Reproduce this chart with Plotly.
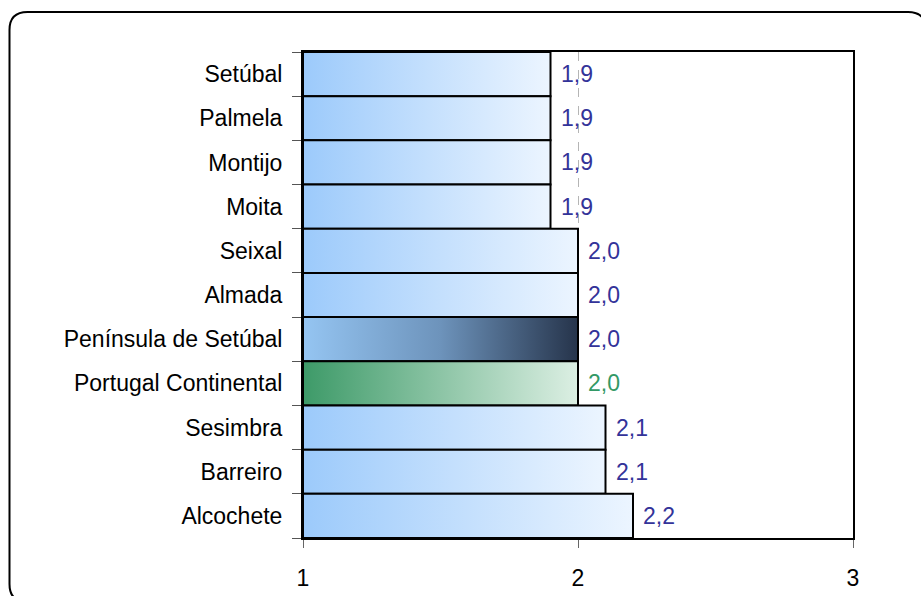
import plotly.graph_objects as go

# ---- data (top to bottom as shown) ----
categories = ["Setúbal", "Palmela", "Montijo", "Moita", "Seixal", "Almada",
              "Península de Setúbal", "Portugal Continental", "Sesimbra",
              "Barreiro", "Alcochete"]
values = [1.9, 1.9, 1.9, 1.9, 2.0, 2.0, 2.0, 2.0, 2.1, 2.1, 2.2]
labels = ["1,9", "1,9", "1,9", "1,9", "2,0", "2,0", "2,0", "2,0", "2,1", "2,1", "2,2"]
x_ticks = [1, 2, 3]

# ---- styles ----
STYLE_BLUE = ([[0, "#9ccafb"], [1, "#ecf5ff"]], "#333399")
STYLE_DARK = ([[0, "#95c5f2"], [0.5, "#6d93bb"], [1, "#26344b"]], "#333399")
STYLE_GREEN = ([[0, "#3d9a68"], [1, "#dcefe3"]], "#339966")
def style_for(name):
    if name == "Península de Setúbal":
        return STYLE_DARK
    if name == "Portugal Continental":
        return STYLE_GREEN
    return STYLE_BLUE

FONT = "Liberation Sans, Arial, sans-serif"
FS = 23
W, H = 921, 596
ML, MR, MT, MB = 303, 68, 52, 58

n = len(categories)
ypos = [n - 1 - i for i in range(n)]  # top item gets largest y
base = x_ticks[0]

fig = go.Figure()
annotations = []
for name, v, lab, y in zip(categories, values, labels, ypos):
    cscale, tcol = style_for(name)
    fig.add_trace(go.Scatter(
        x=[base, v, v, base, base],
        y=[y - 0.5, y - 0.5, y + 0.5, y + 0.5, y - 0.5],
        mode="lines", fill="toself",
        fillgradient=dict(type="horizontal", colorscale=cscale),
        line=dict(color="black", width=2),
        hoverinfo="skip", showlegend=False,
    ))
    annotations.append(dict(x=v, y=y, xref="x", yref="y", text=lab, showarrow=False,
                            xanchor="left", yanchor="middle", xshift=8,
                            font=dict(family=FONT, size=FS, color=tcol)))

# rounded outer frame (pixel geometry converted to paper coordinates)
pw, ph = W - ML - MR, H - MT - MB
def px(xp): return (xp - ML) / pw
def py(yp): return (H - MB - yp) / ph
L, T, R, B, r = 9.5, 12, 926, 602, 18
path = (f"M {px(L)},{py(B - r)} L {px(L)},{py(T + r)} Q {px(L)},{py(T)} {px(L + r)},{py(T)} "
        f"L {px(R - r)},{py(T)} Q {px(R)},{py(T)} {px(R)},{py(T + r)} "
        f"L {px(R)},{py(B - r)} Q {px(R)},{py(B)} {px(R - r)},{py(B)} "
        f"L {px(L + r)},{py(B)} Q {px(L)},{py(B)} {px(L)},{py(B - r)} Z")

fig.update_layout(
    width=W, height=H,
    margin=dict(l=ML, r=MR, t=MT, b=MB, pad=0),
    paper_bgcolor="white", plot_bgcolor="white",
    font=dict(family=FONT, size=FS, color="black"),
    annotations=annotations,
    shapes=[dict(type="path", path=path, xref="paper", yref="paper",
                 line=dict(color="black", width=2), layer="above")],
    xaxis=dict(range=[x_ticks[0], x_ticks[-1]], tickmode="array", tickvals=x_ticks,
               ticktext=[str(t) for t in x_ticks], automargin=False,
               ticks="outside", ticklen=8, tickcolor="#666666", tickwidth=1,
               ticklabelstandoff=10,
               showgrid=True, gridcolor="#b5b5b5", griddash="dash", gridwidth=1,
               showline=True, linecolor="black", linewidth=2, mirror=True,
               zeroline=False, fixedrange=True),
    yaxis=dict(range=[-0.5, n - 0.5], tickmode="array", tickvals=ypos, ticktext=categories,
               ticks="", ticklabelstandoff=14, automargin=False,
               minor=dict(tickvals=[y - 0.5 for y in ypos] + [n - 0.5], ticks="outside",
                          ticklen=9, tickcolor="#555555", tickwidth=1, showgrid=False),
               showgrid=False, showline=True, linecolor="black", linewidth=2, mirror=True,
               zeroline=False, fixedrange=True),
)

fig.write_html("out.html", config={"displayModeBar": False},
               post_script="document.body.style.margin='0';document.body.style.overflow='hidden';")
